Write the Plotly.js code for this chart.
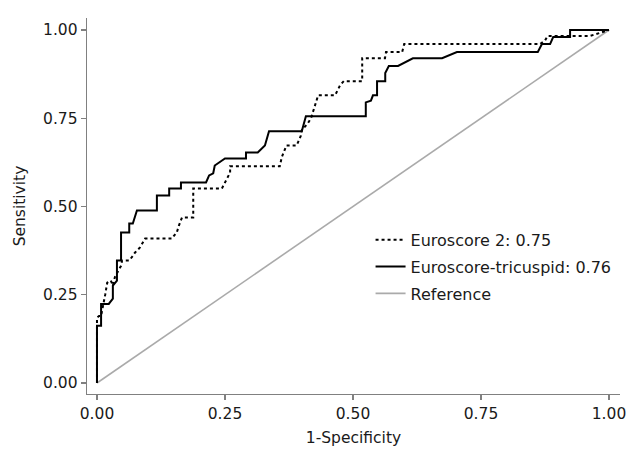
<!DOCTYPE html>
<html>
<head>
<meta charset="utf-8">
<script src="https://cdn.plot.ly/plotly-3.0.1.min.js"></script>
<style>html,body{margin:0;padding:0;background:#fff;}#chart{width:631px;height:449px;}</style>
</head>
<body>
<div id="chart"></div>
<script>
// Euroscore 2 ROC curve (1-specificity, sensitivity)
const euro2FPR = [0,0,0.004,0.008,0.016,0.020,0.027,0.031,0.035,0.047,0.049,0.063,0.070,0.074,0.084,0.094,0.146,0.156,0.160,0.166,0.188,0.188,0.244,0.250,0.260,0.260,0.357,0.361,0.370,0.390,0.398,0.400,0.412,0.418,0.423,0.432,0.465,0.475,0.482,0.518,0.518,0.5625,0.5645,0.596,0.600,0.865,0.875,0.880,0.963,1];
const euro2TPR = [0,0.185,0.190,0.190,0.250,0.284,0.290,0.276,0.300,0.332,0.347,0.347,0.360,0.369,0.384,0.409,0.409,0.427,0.446,0.469,0.469,0.551,0.551,0.568,0.596,0.614,0.614,0.640,0.673,0.673,0.700,0.716,0.736,0.750,0.773,0.815,0.815,0.844,0.855,0.855,0.920,0.920,0.9375,0.9375,0.960,0.960,0.970,0.983,0.983,1];
// Euroscore-tricuspid ROC curve
const triFPR = [0,0,0.008,0.008,0.023,0.031,0.031,0.039,0.039,0.047,0.047,0.063,0.063,0.070,0.078,0.117,0.117,0.141,0.141,0.164,0.164,0.213,0.219,0.227,0.230,0.250,0.291,0.291,0.314,0.328,0.336,0.400,0.408,0.525,0.525,0.535,0.539,0.547,0.547,0.563,0.563,0.570,0.588,0.617,0.674,0.703,0.861,0.869,0.885,0.891,0.924,0.924,1];
const triTPR = [0,0.162,0.162,0.224,0.224,0.239,0.276,0.290,0.347,0.347,0.426,0.426,0.452,0.452,0.489,0.489,0.531,0.531,0.551,0.551,0.568,0.568,0.588,0.594,0.616,0.636,0.636,0.653,0.653,0.673,0.713,0.713,0.756,0.756,0.795,0.800,0.815,0.815,0.855,0.855,0.878,0.898,0.898,0.920,0.920,0.9375,0.9375,0.960,0.960,0.980,0.980,1.0,1];
// Reference diagonal
const refX = [0,1];
const refY = [0,1];
const names = ['Euroscore 2: 0.75','Euroscore-tricuspid: 0.76','Reference'];
const tickVals = [0,0.25,0.5,0.75,1];
const tickText = ['0.00','0.25','0.50','0.75','1.00'];

const font = "DejaVu Sans, Verdana, sans-serif";
const traces = [
  {x: refX, y: refY, mode:'lines', name: names[2], showlegend:false, line:{color:'#aaaaaa', width:1.6}, hoverinfo:'skip'},
  {x: euro2FPR, y: euro2TPR, mode:'lines', name: names[0], legendgroup:'a', legendrank:1, line:{color:'#000', width:2, dash:'dot'}},
  {x: triFPR, y: triTPR, mode:'lines', name: names[1], legendgroup:'b', legendrank:2, line:{color:'#000', width:2}},
  {x: [null], y: [null], mode:'lines', name: names[2], legendgroup:'c', legendrank:3, line:{color:'#aaaaaa', width:1.6}}
];
const axisCommon = {
  showgrid:false, zeroline:false, showline:true, linecolor:'#808080', linewidth:1.3,
  ticks:'outside', ticklen:5, tickwidth:1.3, tickcolor:'#808080',
  tickvals: tickVals, ticktext: tickText,
  tickfont:{family:font, size:15.5, color:'#1a1a1a'}
};
const layout = {
  width:631, height:449,
  margin:{l:87, r:11, t:18, b:55},
  paper_bgcolor:'#fff', plot_bgcolor:'#fff',
  font:{family:font, color:'#1a1a1a'},
  xaxis: Object.assign({}, axisCommon, {range:[-0.0195,1.0215], title:{text:'1-Specificity', font:{family:font, size:15.5, color:'#1a1a1a'}, standoff:10}}),
  yaxis: Object.assign({}, axisCommon, {range:[-0.0312,1.034], title:{text:'Sensitivity', font:{family:font, size:15.5, color:'#1a1a1a'}, standoff:13}}),
  legend:{x:0.532, y:0.455, xanchor:'left', yanchor:'top', bgcolor:'rgba(0,0,0,0)', traceorder:'grouped', tracegroupgap:3, font:{family:font, size:16, color:'#1a1a1a'}},
  showlegend:true
};
Plotly.newPlot('chart', traces, layout, {staticPlot:true, displayModeBar:false});
</script>
</body>
</html>
